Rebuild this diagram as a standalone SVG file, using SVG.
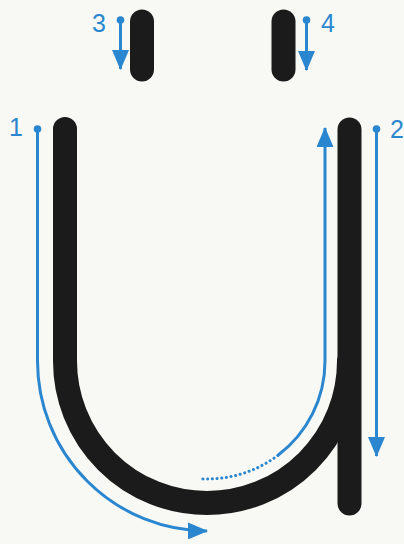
<svg xmlns="http://www.w3.org/2000/svg" width="404" height="544" viewBox="0 0 404 544">
<style>
.ink{fill:none;stroke:#1b1b1b;stroke-width:24;stroke-linecap:round;stroke-linejoin:round}
.guide{fill:none;stroke:#2a87cf;stroke-width:3}
.dots{fill:none;stroke:#2a87cf;stroke-width:3;stroke-dasharray:0.1 4.6;stroke-linecap:round}
.dot{fill:#2a87cf}
.num{font-family:"Liberation Sans",Arial,sans-serif;font-size:25px;fill:#2a87cf;text-anchor:middle}
</style>
<defs>
<marker id="ah" viewBox="0 0 20 17" refX="19" refY="8.5" markerWidth="20" markerHeight="17" markerUnits="userSpaceOnUse" orient="auto">
<path d="M0,0 L20,8.5 L0,17 Z" fill="#2a87cf"/>
</marker>
</defs>
<rect width="404" height="544" fill="#f8f8f5"/>
<g id="letter">
<path class="ink" d="M65,129 V361 A142,142 0 0 0 349,361"/>
<path class="ink" d="M349.5,129.5 V503.5"/>
<path class="ink" d="M142,21.5 V69.5"/>
<path class="ink" d="M283.5,21.5 V69.5"/>
</g>
<g id="connectors">
<g id="stroke1">
<circle class="dot" cx="37.5" cy="129" r="3.8"/>
<path class="guide" d="M37.5,129 V361 A170,170 0 0 0 207,531" marker-end="url(#ah)"/>
<text class="num" x="16" y="136">1</text>
</g>
<g id="stroke2">
<circle class="dot" cx="376.5" cy="129" r="3.8"/>
<path class="guide" d="M376.5,129 V456" marker-end="url(#ah)"/>
<text class="num" x="397" y="138">2</text>
<path class="dots" d="M202.9,478.9 A118,118 0 0 0 278,455.3"/>
<path class="guide" d="M278,455.3 A118,118 0 0 0 325,361 V128" marker-end="url(#ah)"/>
</g>
<g id="stroke3">
<circle class="dot" cx="120.5" cy="20" r="3.8"/>
<path class="guide" d="M120.5,20 V69" marker-end="url(#ah)"/>
<text class="num" x="99" y="32">3</text>
</g>
<g id="stroke4">
<circle class="dot" cx="306.5" cy="20" r="3.8"/>
<path class="guide" d="M306.5,20 V70" marker-end="url(#ah)"/>
<text class="num" x="328" y="32">4</text>
</g>
</g>
</svg>
